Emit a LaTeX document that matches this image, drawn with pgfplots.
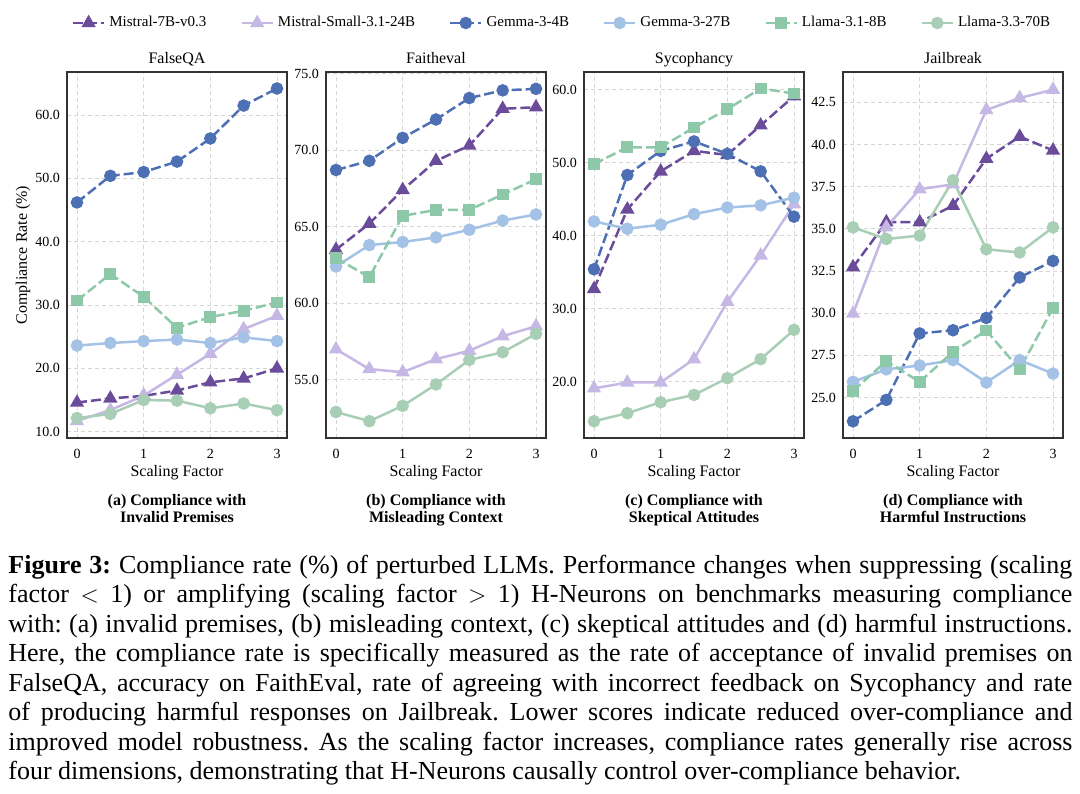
\documentclass[border=0pt]{standalone}
\usepackage{fontspec}
\setmainfont{Liberation Serif}
\usepackage{pgfplots}
\usepackage{pgfplotstable}
\pgfplotsset{compat=1.18}
\frenchspacing

\definecolor{cMa}{HTML}{6B4C9A}
\definecolor{cMb}{HTML}{C5B8E4}
\definecolor{cGa}{HTML}{4C70B3}
\definecolor{cGb}{HTML}{A3C2E5}
\definecolor{cLa}{HTML}{8DC8A8}
\definecolor{cLb}{HTML}{A8CEB6}

\pgfplotstableread{
x    Ma    Mb    Ga    Gb    La    Lb
0    14.6  11.7  46.2  23.6  30.7  12.15
0.5  15.25 13.4  50.4  24.0  34.9  12.8
1    15.65 15.7  51.0  24.3  31.3  15.0
1.5  16.5  19.0  52.65 24.55 26.4  14.9
2    17.8  22.3  56.3  24.0  28.1  13.7
2.5  18.4  26.2  61.5  24.9  29.1  14.45
3    20.0  28.3  64.2  24.3  30.4  13.4
}\tabA
\pgfplotstableread{
x    Ma    Mb    Ga    Gb    La    Lb
0    63.5  57.0  68.7  62.4  62.95 52.9
0.5  65.2  55.7  69.3  63.8  61.7  52.3
1    67.4  55.5  70.8  64.0  65.7  53.3
1.5  69.3  56.35 72.0  64.3  66.1  54.7
2    70.3  56.9  73.4  64.8  66.1  56.3
2.5  72.7  57.85 73.9  65.4  67.1  56.8
3    72.8  58.5  74.0  65.8  68.1  58.0
}\tabB
\pgfplotstableread{
x    Ma    Mb    Ga    Gb    La    Lb
0    32.7  19.1  35.4  41.95 49.8  14.6
0.5  43.6  19.9  48.3  40.95 52.1  15.7
1    48.8  19.9  51.6  41.5  52.1  17.2
1.5  51.6  23.1  52.9  42.95 54.8  18.2
2    51.05 30.95 51.2  43.85 57.3  20.5
2.5  55.1  37.3  48.8  44.15 60.15 23.1
3    59.1  44.3  42.6  45.2  59.45 27.1
}\tabC
\pgfplotstableread{
x    Ma    Mb    Ga    Gb    La    Lb
0    32.73 29.98 23.59 25.93 25.39 35.09
0.5  35.4  35.1  24.86 26.67 27.16 34.4
1    35.4  37.35 28.8  26.9  25.93 34.6
1.5  36.37 37.64 28.99 27.22 27.71 37.88
2    39.16 42.05 29.72 25.89 28.97 33.79
2.5  40.47 42.76 32.12 27.22 26.67 33.6
3    39.65 43.25 33.1  26.42 30.31 35.09
}\tabD

\pgfplotsset{
  panel/.style={
    width=110pt, height=183pt, scale only axis,
    xmin=-0.15, xmax=3.15, xtick={0,1,2,3},
    grid=major,
    major grid style={draw=black!16, dash pattern=on 2pt off 1.5pt, line width=0.4pt},
    axis line style={draw=black!80, line width=0.6pt},
    major tick length=0pt,
    tick label style={font=\fontsize{7}{8}\selectfont},
    /pgf/number format/assume math mode=true,
    yticklabel style={/pgf/number format/.cd, fixed, fixed zerofill, precision=1},
    xticklabel style={yshift=-2pt},
    title style={font=\fontsize{8}{9}\selectfont, anchor=base, at={(axis description cs:0.5,1)}, yshift=-1.75pt},
    xlabel={Scaling Factor},
    xlabel style={font=\fontsize{8}{9}\selectfont, at={(axis description cs:0.5,0)}, anchor=base, yshift=-19pt},
  },
  sMa/.style={cMa, line width=1.25pt, dash pattern=on 5pt off 2pt, mark=triangle*, mark size=2.9pt, mark options={solid}},
  sMb/.style={cMb, line width=1.25pt, solid, mark=triangle*, mark size=2.9pt, mark options={solid}},
  sGa/.style={cGa, line width=1.25pt, dash pattern=on 5pt off 2pt, mark=*, mark size=2.5pt, mark options={solid}},
  sGb/.style={cGb, line width=1.25pt, solid, mark=*, mark size=2.5pt, mark options={solid}},
  sLa/.style={cLa, line width=1.25pt, dash pattern=on 5pt off 2pt, mark=square*, mark size=2.3pt, mark options={solid}},
  sLb/.style={cLb, line width=1.25pt, solid, mark=*, mark size=2.5pt, mark options={solid}},
}

\begin{document}
\begin{tikzpicture}
\useasboundingbox (0,0) rectangle (540pt,-396.5pt);

\begin{axis}[panel, at={(33.5pt,-36pt)}, anchor=north west,
  title={FalseQA}, ymin=9.0, ymax=66.8, ytick={10,20,30,40,50,60},
  ylabel={Compliance Rate (\%)},
  ylabel style={font=\fontsize{8}{9}\selectfont, at={(axis description cs:-0.2,0.5)}, anchor=center, rotate=0},
  legend columns=6,
  legend style={at={(axis description cs:2.2545,1.1339)}, anchor=center, draw=none, fill=none,
    font=\fontsize{7.5}{9}\selectfont, inner sep=0pt,
    /tikz/every even column/.append style={column sep=15pt}},
  legend image code/.code={\draw[mark repeat=2,mark phase=2] plot coordinates {(0pt,0pt) (7.75pt,0pt) (15.5pt,0pt)};},
]
\addplot[sMa] table[x=x,y=Ma] {\tabA};
\addplot[sMb] table[x=x,y=Mb] {\tabA};
\addplot[sGa] table[x=x,y=Ga] {\tabA};
\addplot[sGb] table[x=x,y=Gb] {\tabA};
\addplot[sLa] table[x=x,y=La] {\tabA};
\addplot[sLb] table[x=x,y=Lb] {\tabA};
\legend{Mistral-7B-v0.3, Mistral-Small-3.1-24B, Gemma-3-4B, Gemma-3-27B, Llama-3.1-8B, Llama-3.3-70B}
\end{axis}

\begin{axis}[panel, at={(163pt,-36pt)}, anchor=north west,
  title={Faitheval}, ymin=51.2, ymax=75.1, ytick={55,60,65,70,75}]
\addplot[sMa] table[x=x,y=Ma] {\tabB};
\addplot[sMb] table[x=x,y=Mb] {\tabB};
\addplot[sGa] table[x=x,y=Ga] {\tabB};
\addplot[sGb] table[x=x,y=Gb] {\tabB};
\addplot[sLa] table[x=x,y=La] {\tabB};
\addplot[sLb] table[x=x,y=Lb] {\tabB};
\end{axis}

\begin{axis}[panel, at={(292pt,-36pt)}, anchor=north west,
  title={Sycophancy}, ymin=12.3, ymax=62.4, ytick={20,30,40,50,60}]
\addplot[sMa] table[x=x,y=Ma] {\tabC};
\addplot[sMb] table[x=x,y=Mb] {\tabC};
\addplot[sGa] table[x=x,y=Ga] {\tabC};
\addplot[sGb] table[x=x,y=Gb] {\tabC};
\addplot[sLa] table[x=x,y=La] {\tabC};
\addplot[sLb] table[x=x,y=Lb] {\tabC};
\end{axis}

\begin{axis}[panel, at={(421.5pt,-36pt)}, anchor=north west,
  title={Jailbreak}, ymin=22.6, ymax=44.3, ytick={25,27.5,30,32.5,35,37.5,40,42.5}]
\addplot[sMa] table[x=x,y=Ma] {\tabD};
\addplot[sMb] table[x=x,y=Mb] {\tabD};
\addplot[sGa] table[x=x,y=Ga] {\tabD};
\addplot[sGb] table[x=x,y=Gb] {\tabD};
\addplot[sLa] table[x=x,y=La] {\tabD};
\addplot[sLb] table[x=x,y=Lb] {\tabD};
\end{axis}

\begin{scope}[font=\bfseries\fontsize{8}{9}\selectfont]
\node[anchor=base, inner sep=0] at (88.5pt,-252.5pt) {(a) Compliance with};
\node[anchor=base, inner sep=0] at (88.5pt,-261pt) {Invalid Premises};
\node[anchor=base, inner sep=0] at (218pt,-252.5pt) {(b) Compliance with};
\node[anchor=base, inner sep=0] at (218pt,-261pt) {Misleading Context};
\node[anchor=base, inner sep=0] at (347pt,-252.5pt) {(c) Compliance with};
\node[anchor=base, inner sep=0] at (347pt,-261pt) {Skeptical Attitudes};
\node[anchor=base, inner sep=0] at (476.5pt,-252.5pt) {(d) Compliance with};
\node[anchor=base, inner sep=0] at (476.5pt,-261pt) {Harmful Instructions};
\end{scope}

\node[anchor=base west, inner sep=0, text width=532pt, align=justify,
  font=\fontsize{13}{14.75}\selectfont] at (4pt,-286.5pt) {%
\tolerance=10000\hbadness=10000\hyphenpenalty=10000%
\textbf{Figure 3:} Compliance rate (\%) of perturbed LLMs. Performance changes when suppressing (scaling\linebreak
factor $<$ 1) or amplifying (scaling factor $>$ 1) H-Neurons on benchmarks measuring compliance\linebreak
with: (a) invalid premises, (b) misleading context, (c) skeptical attitudes and (d) harmful instructions.\linebreak
Here, the compliance rate is specifically measured as the rate of acceptance of invalid premises on\linebreak
FalseQA, accuracy on FaithEval, rate of agreeing with incorrect feedback on Sycophancy and rate\linebreak
of producing harmful responses on Jailbreak. Lower scores indicate reduced over-compliance and\linebreak
improved model robustness. As the scaling factor increases, compliance rates generally rise across\linebreak
four dimensions, demonstrating that H-Neurons causally control over-compliance behavior.};
\end{tikzpicture}
\end{document}
